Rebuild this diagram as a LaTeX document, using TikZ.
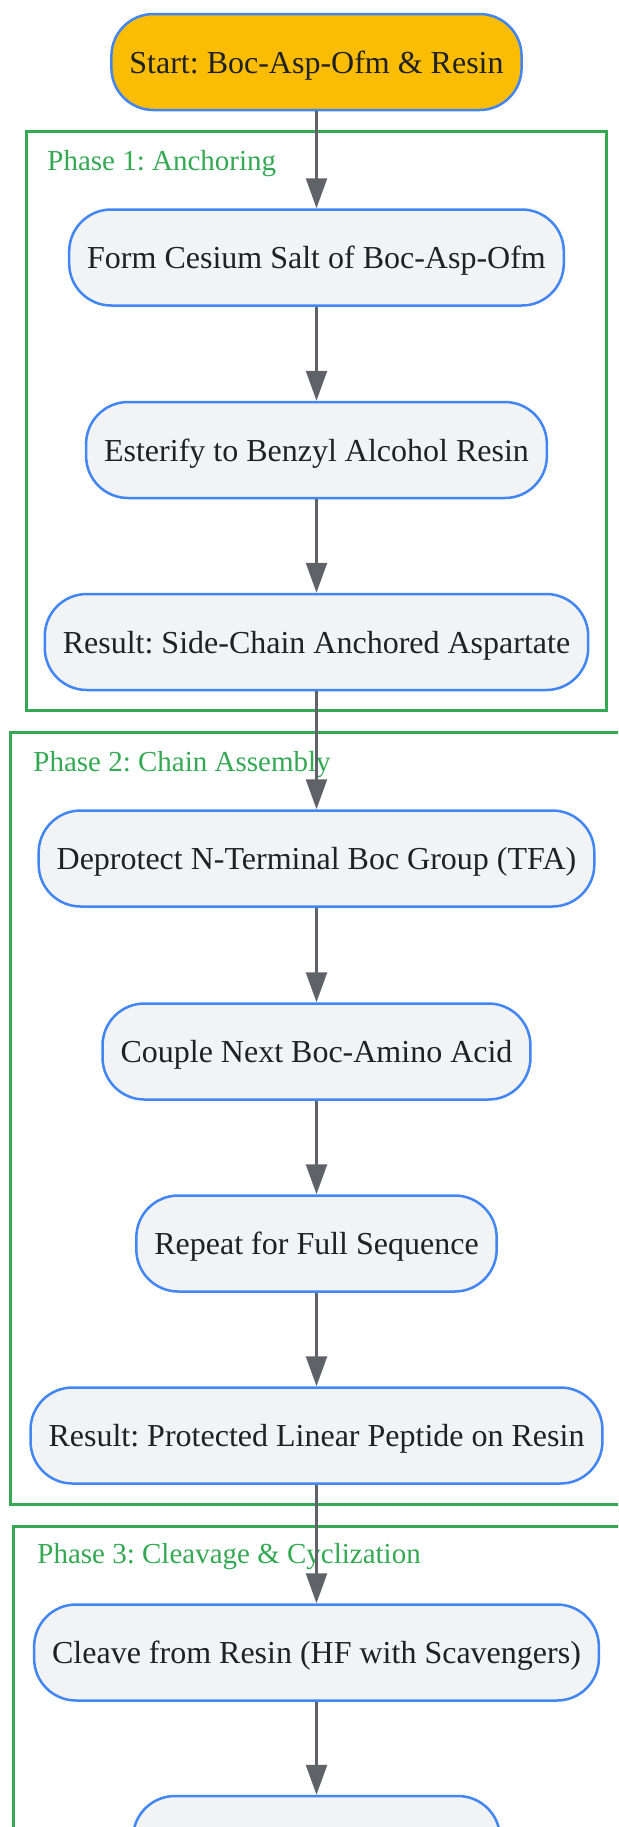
\documentclass[tikz,border=0pt]{standalone}
\usepackage{fontspec}
\setmainfont{Liberation Serif}
\usetikzlibrary{arrows.meta, positioning}
\definecolor{nodeblue}{HTML}{4285F4}
\definecolor{nodegray}{HTML}{F1F3F4}
\definecolor{startyellow}{HTML}{FBBC04}
\definecolor{arrowgray}{HTML}{5F6368}
\definecolor{phasegreen}{HTML}{34A853}
\definecolor{textdark}{HTML}{202124}
\frenchspacing

\begin{document}
\begin{tikzpicture}[x=0.5pt, y=-0.5pt, > = {Triangle[length=15pt, width=10.5pt]},
    stepbox/.style = {draw=nodeblue, line width=1.25pt, fill=nodegray, rounded corners=21pt,
      minimum height=48pt, inner xsep=9pt, text height=13pt, text depth=1.7pt,
      text=textdark, font=\fontsize{16pt}{19pt}\selectfont},
    startbox/.style = {stepbox, fill=startyellow},
    phase/.style = {draw=phasegreen, line width=1.5pt},
    phaselabel/.style = {anchor=base west, inner sep=0pt, text=phasegreen, font=\fontsize{14.5pt}{17pt}\selectfont},
    flow/.style = {->, draw=arrowgray, line width=1.25pt}]
    \def\cx{316.5}
    \clip (0,0) rectangle (618,1827);
    % phase frames
    \draw[phase] (26,131) rectangle (606,710);
    \node[phaselabel] (lab1) at (47,170) {Phase 1: Anchoring};
    \draw[phase] (10,732) rectangle (640,1504);
    \node[phaselabel] (lab2) at (33,771) {Phase 2: Chain Assembly};
    \draw[phase] (13,1526) rectangle (640,1900);
    \node[phaselabel] (lab3) at (37,1563) {Phase 3: Cleavage \& Cyclization};
    % steps
    \node[startbox] (start) at (\cx,62) {Start: Boc-Asp-Ofm \& Resin};
    \node[stepbox] (salt) at (\cx,257.5) {Form Cesium Salt of Boc-Asp-Ofm};
    \node[stepbox] (ester) at (\cx,450) {Esterify to Benzyl Alcohol Resin};
    \node[stepbox] (anchored) at (\cx,642) {Result: Side-Chain Anchored Aspartate};
    \node[stepbox] (deprotect) at (\cx,858.5) {Deprotect N-Terminal Boc Group (TFA)};
    \node[stepbox] (couple) at (\cx,1051.5) {Couple Next Boc-Amino Acid};
    \node[stepbox] (repeat) at (\cx,1243.5) {Repeat for Full Sequence};
    \node[stepbox] (linear) at (\cx,1435.5) {Result: Protected Linear Peptide on Resin};
    \node[stepbox] (cleave) at (\cx,1652.5) {Cleave from Resin (HF with Scavengers)};
    \node[stepbox, minimum width=183.5pt] (next) at (\cx,1844) {};
    % arrows
    \draw[flow] (start) -- (salt);
    \draw[flow] (salt) -- (ester);
    \draw[flow] (ester) -- (anchored);
    \draw[flow] (anchored) -- (deprotect);
    \draw[flow] (deprotect) -- (couple);
    \draw[flow] (couple) -- (repeat);
    \draw[flow] (repeat) -- (linear);
    \draw[flow] (linear) -- (cleave);
    \draw[flow] (cleave) -- (next);
\end{tikzpicture}
\end{document}
